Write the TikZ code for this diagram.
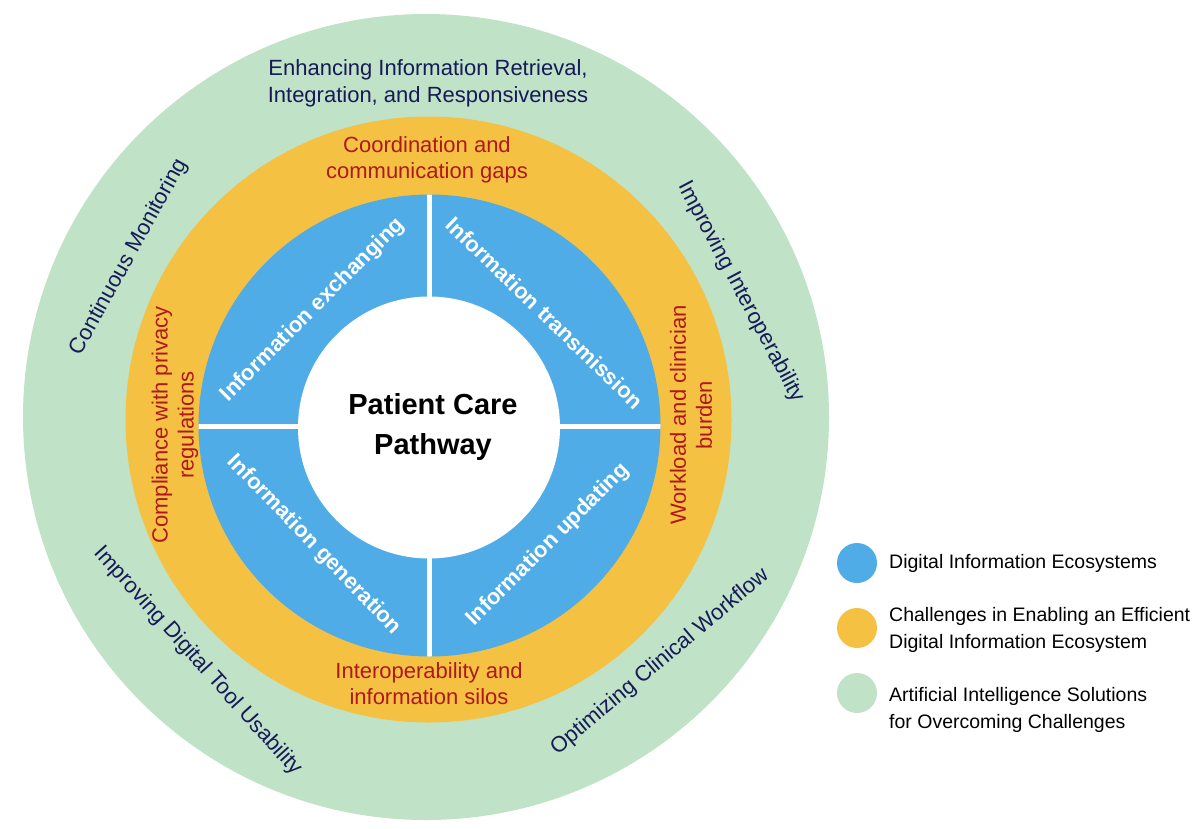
\documentclass[tikz,border=0pt]{standalone}
\usepackage{fontspec}
\setmainfont{Liberation Sans}
\definecolor{ringgreen}{RGB}{192,226,198}
\definecolor{ringorange}{RGB}{244,193,67}
\definecolor{ringblue}{RGB}{79,172,230}
\definecolor{navytext}{RGB}{22,26,88}
\definecolor{redtext}{RGB}{176,24,30}
\begin{document}
\begin{tikzpicture}[x=1pt,y=-1pt,
  outerlabel/.style={text=navytext, font=\fontsize{22}{27}\selectfont, align=center, inner sep=0pt},
  midlabel/.style={text=redtext, font=\fontsize{22}{26}\selectfont, align=center, inner sep=0pt},
  innerlabel/.style={text=white, font=\fontsize{22}{26}\selectfont\bfseries, align=center, inner sep=0pt},
  centerlabel/.style={text=black, font=\fontsize{29}{40}\selectfont\bfseries, align=center, inner sep=0pt},
  legdot/.style={circle, minimum size=40pt, inner sep=0pt},
  legtext/.style={text=black, font=\fontsize{19.5}{27}\selectfont, align=left, anchor=west, inner sep=0pt},
  sepline/.style={draw=white, line width=5pt}]
\useasboundingbox (0,0) rectangle (1200,828);
% rings
\fill[ringgreen] (426,417) circle[radius=403pt];
\fill[ringorange] (428.5,419.5) circle[radius=303pt];
\fill[ringblue] (429.5,425.5) circle[radius=231pt];
\begin{scope}
  \clip (429.5,425.5) circle[radius=231pt];
  \draw[sepline] (429,190) -- (429,660);
  \draw[sepline] (195,426.5) -- (665,426.5);
\end{scope}
\fill[white] (429,427.5) circle[radius=131pt];
% center
\node[centerlabel] (pcp) at (433,427) {Patient Care\\Pathway};
% inner labels
\node[innerlabel, rotate=45] (iex) at (313,310) {Information exchanging};
\node[innerlabel, rotate=-44] (itr) at (545,313) {Information transmission};
\node[innerlabel, rotate=-46] (igen) at (314,545) {Information generation};
\node[innerlabel, rotate=45] (iup) at (548,545) {Information updating};
% middle labels
\node[midlabel] (coord) at (427,160) {Coordination and\\communication gaps};
\node[midlabel] (interop) at (429,684) {Interoperability and\\information silos};
\node[midlabel, rotate=90] (compl) at (175,425) {Compliance with privacy\\regulations};
\node[midlabel, rotate=90] (work) at (691,415) {Workload and clinician\\burden};
% outer labels
\node[outerlabel] (enh) at (428,83) {Enhancing Information Retrieval,\\Integration, and Responsiveness};
\node[outerlabel, rotate=61] (cont) at (129,257) {Continuous Monitoring};
\node[outerlabel, rotate=-62] (impi) at (741,292) {Improving Interoperability};
\node[outerlabel, rotate=-48] (impd) at (198,661) {Improving Digital Tool Usability};
\node[outerlabel, rotate=40] (opt) at (660,662) {Optimizing Clinical Workflow};
% legend
\node[legdot, fill=ringblue] (l1) at (857,563) {};
\node[legdot, fill=ringorange] (l2) at (857,628) {};
\node[legdot, fill=ringgreen] (l3) at (857,693) {};
\node[legtext] (t1) at (889,563) {Digital Information Ecosystems};
\node[legtext] (t2) at (889,629.5) {Challenges in Enabling an Efficient\\Digital Information Ecosystem};
\node[legtext] (t3) at (889,709.5) {Artificial Intelligence Solutions\\for Overcoming Challenges};
\end{tikzpicture}
\end{document}
